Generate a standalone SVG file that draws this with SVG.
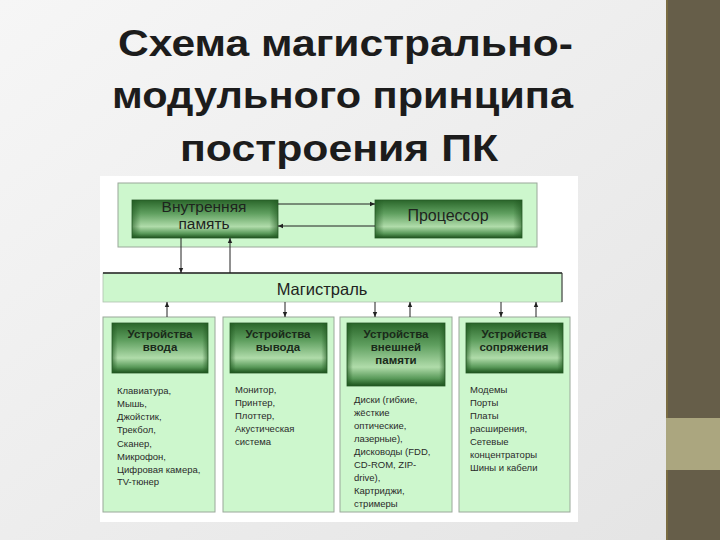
<svg xmlns="http://www.w3.org/2000/svg" width="720" height="540" viewBox="0 0 720 540">
<defs>
<linearGradient id="bg" x1="0" y1="0" x2="1" y2="1">
<stop offset="0" stop-color="#f6f6f6"/><stop offset="1" stop-color="#e4e4e4"/>
</linearGradient>
<linearGradient id="dk" x1="0" y1="0" x2="0" y2="1">
<stop offset="0" stop-color="#2a662a"/><stop offset="0.35" stop-color="#5f9f5f"/><stop offset="0.7" stop-color="#b0dcaa"/><stop offset="0.88" stop-color="#5a9a5a"/><stop offset="1" stop-color="#1c521c"/>
</linearGradient>
<linearGradient id="edge" x1="0" y1="0" x2="1" y2="0">
<stop offset="0" stop-color="#1e561e" stop-opacity="0.6"/><stop offset="0.06" stop-color="#1e561e" stop-opacity="0"/><stop offset="0.94" stop-color="#1e561e" stop-opacity="0"/><stop offset="1" stop-color="#1e561e" stop-opacity="0.6"/>
</linearGradient>
<marker id="ah" markerWidth="6" markerHeight="6" refX="5" refY="3" orient="auto" markerUnits="userSpaceOnUse">
<path d="M0,0.8 L5,3 L0,5.2 Z" fill="#222"/>
</marker>
<style>
.lg{fill:#cdf7cd;stroke:#9aa89a;stroke-width:1}
.dg{fill:url(#dk);stroke:#2a5a2a;stroke-width:0.8}
.eg{fill:url(#edge);stroke:none}
.t{font-family:"Liberation Sans",Arial,sans-serif;fill:#1e241e;text-anchor:middle}
.h{font-family:"Liberation Sans",Arial,sans-serif;font-weight:bold;font-size:11.5px;fill:#1a2a1a;text-anchor:middle}
.s{font-family:"Liberation Sans",Arial,sans-serif;font-size:9.5px;fill:#2a2a2a}
.c{stroke:#222;stroke-width:1;fill:none;marker-end:url(#ah)}
.ti{font-family:"Liberation Sans",Arial,sans-serif;font-weight:bold;font-size:37px;fill:#1c1c1c}
</style>
</defs>
<rect width="720" height="540" fill="url(#bg)"/>
<rect x="666" y="0" width="54" height="540" fill="#665e49"/>
<rect x="666" y="0" width="2" height="540" fill="#7a6c42"/>
<rect x="666" y="418" width="54" height="52" fill="#aba67f"/>
<g id="title">
<text class="ti" x="118" y="56" textLength="455" lengthAdjust="spacingAndGlyphs">Схема магистрально-</text>
<text class="ti" x="112" y="108" textLength="461" lengthAdjust="spacingAndGlyphs">модульного принципа</text>
<text class="ti" x="180" y="161" textLength="318" lengthAdjust="spacingAndGlyphs">построения ПК</text>
</g>
<rect x="100" y="176" width="478" height="346" fill="#ffffff"/>
<g id="top-block">
<rect class="lg" x="118" y="183" width="419" height="64"/>
</g>
<g id="memory">
<rect class="dg" x="132" y="200" width="146" height="38"/>
<rect class="eg" x="132" y="200" width="146" height="38"/>
<text class="t" x="204" y="212" font-size="15.5">Внутренняя</text>
<text class="t" x="204" y="229" font-size="15.5">память</text>
</g>
<g id="cpu">
<rect class="dg" x="375" y="200" width="147" height="38"/>
<rect class="eg" x="375" y="200" width="147" height="38"/>
<text class="t" x="448" y="221" font-size="16">Процессор</text>
</g>
<g id="bus">
<rect x="103" y="273" width="459" height="29" fill="#cdf7cd" stroke="#b0c0b0" stroke-width="0.8"/>
<line x1="103" y1="273" x2="562" y2="273" stroke="#222" stroke-width="1.5"/>
<line x1="562" y1="273" x2="562" y2="302" stroke="#333" stroke-width="1"/>
<text class="t" x="322" y="295" font-size="16.5">Магистраль</text>
</g>
<g id="col-input">
<rect class="lg" x="103" y="317" width="112" height="195"/>
<rect class="dg" x="112" y="323" width="96" height="50"/>
<rect class="eg" x="112" y="323" width="96" height="50"/>
<text class="h" x="160" y="338">Устройства</text>
<text class="h" x="160" y="351">ввода</text>
<text class="s" x="117" y="394">Клавиатура,</text>
<text class="s" x="117" y="407">Мышь,</text>
<text class="s" x="117" y="420">Джойстик,</text>
<text class="s" x="117" y="433">Трекбол,</text>
<text class="s" x="117" y="447">Сканер,</text>
<text class="s" x="117" y="460">Микрофон,</text>
<text class="s" x="117" y="473">Цифровая камера,</text>
<text class="s" x="117" y="485">TV-тюнер</text>
</g>
<g id="col-output">
<rect class="lg" x="223" y="317" width="111" height="195"/>
<rect class="dg" x="230" y="323" width="97" height="50"/>
<rect class="eg" x="230" y="323" width="97" height="50"/>
<text class="h" x="278" y="338">Устройства</text>
<text class="h" x="278" y="351">вывода</text>
<text class="s" x="235" y="393">Монитор,</text>
<text class="s" x="235" y="406">Принтер,</text>
<text class="s" x="235" y="419">Плоттер,</text>
<text class="s" x="235" y="432">Акустическая</text>
<text class="s" x="235" y="445">система</text>
</g>
<g id="col-storage">
<rect class="lg" x="340" y="317" width="112" height="195"/>
<rect class="dg" x="347" y="323" width="98" height="63"/>
<rect class="eg" x="347" y="323" width="98" height="63"/>
<text class="h" x="396" y="338">Устройства</text>
<text class="h" x="396" y="351">внешней</text>
<text class="h" x="396" y="364">памяти</text>
<text class="s" x="354" y="403">Диски (гибкие,</text>
<text class="s" x="354" y="416">жёсткие</text>
<text class="s" x="354" y="429">оптические,</text>
<text class="s" x="354" y="442">лазерные),</text>
<text class="s" x="354" y="455">Дисководы (FDD,</text>
<text class="s" x="354" y="468">CD-ROM, ZIP-</text>
<text class="s" x="354" y="481">drive),</text>
<text class="s" x="354" y="494">Картриджи,</text>
<text class="s" x="354" y="507">стримеры</text>
</g>
<g id="col-interface">
<rect class="lg" x="459" y="317" width="111" height="195"/>
<rect class="dg" x="466" y="323" width="97" height="50"/>
<rect class="eg" x="466" y="323" width="97" height="50"/>
<text class="h" x="514" y="338">Устройства</text>
<text class="h" x="514" y="351">сопряжения</text>
<text class="s" x="470" y="393">Модемы</text>
<text class="s" x="470" y="406">Порты</text>
<text class="s" x="470" y="419">Платы</text>
<text class="s" x="470" y="432">расширения,</text>
<text class="s" x="470" y="445">Сетевые</text>
<text class="s" x="470" y="458">концентраторы</text>
<text class="s" x="470" y="471">Шины и кабели</text>
</g>
<g id="connectors">
<line class="c" x1="278" y1="204" x2="375" y2="204"/>
<line class="c" x1="375" y1="226" x2="278" y2="226"/>
<line class="c" x1="181" y1="238" x2="181" y2="273"/>
<line class="c" x1="230" y1="273" x2="230" y2="238"/>
<line class="c" x1="167" y1="317" x2="167" y2="302"/>
<line class="c" x1="285" y1="302" x2="285" y2="317"/>
<line class="c" x1="375" y1="302" x2="375" y2="317"/>
<line class="c" x1="410" y1="317" x2="410" y2="302"/>
<line class="c" x1="501" y1="302" x2="501" y2="317"/>
<line class="c" x1="536" y1="317" x2="536" y2="302"/>
</g>
</svg>
